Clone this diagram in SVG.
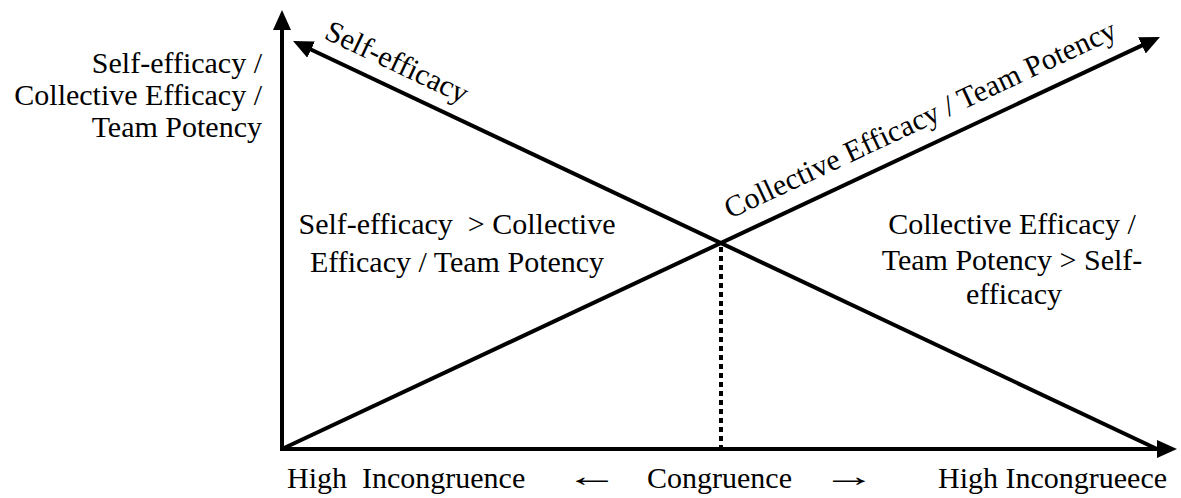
<svg xmlns="http://www.w3.org/2000/svg" width="1181" height="498" viewBox="0 0 1181 498">
<style>
  .t { font-family: 'Liberation Serif', 'Times New Roman', Times, serif; font-size: 30px; fill: #000; }
  .ln { stroke: #000; stroke-width: 4; fill: none; }
  .dot { stroke: #000; stroke-width: 4; stroke-dasharray: 5 4; fill: none; }
</style>
<defs>
  <marker id="ah" markerUnits="userSpaceOnUse" markerWidth="22" markerHeight="20" refX="2" refY="9" orient="auto" viewBox="0 0 22 20">
    <path d="M0,0 L20,9 L0,18 z" fill="#000"/>
  </marker>
</defs>
<rect width="1181" height="498" fill="#fff"/>
<g id="connectors">
  <line class="ln" x1="282" y1="451" x2="282" y2="28" marker-end="url(#ah)"/>
  <line class="ln" x1="280" y1="449" x2="1159" y2="449" marker-end="url(#ah)"/>
  <line class="ln" x1="282" y1="449" x2="1143.7" y2="44.6" marker-end="url(#ah)"/>
  <line class="ln" x1="1157" y1="449" x2="309.3" y2="48.7" marker-end="url(#ah)"/>
  <line class="dot" x1="721" y1="247" x2="721" y2="447"/>
</g>
<g class="t">
<g id="y-axis-label">
  <text x="262" y="73" text-anchor="end">Self-efficacy /</text>
  <text x="262" y="105" text-anchor="end">Collective Efficacy /</text>
  <text x="262" y="137" text-anchor="end">Team Potency</text>
</g>
<g id="self-efficacy-line-label">
  <text transform="translate(323,38) rotate(25.3)">Self-efficacy</text>
</g>
<g id="collective-line-label">
  <text transform="translate(730,219) rotate(-25.1)" textLength="429" lengthAdjust="spacing">Collective Efficacy / Team Potency</text>
</g>
<g id="left-region">
  <text x="457" y="234" text-anchor="middle" xml:space="preserve">Self-efficacy  &gt; Collective</text>
  <text x="457" y="272" text-anchor="middle">Efficacy / Team Potency</text>
</g>
<g id="right-region">
  <text x="1012" y="234" text-anchor="middle">Collective Efficacy /</text>
  <text x="1012" y="270" text-anchor="middle">Team Potency &gt; Self-</text>
  <text x="1014" y="304" text-anchor="middle">efficacy</text>
</g>
<g id="x-axis-labels">
  <text x="287" y="488" xml:space="preserve">High  Incongruence</text>
  <text transform="translate(592,486) scale(1.8,1)" text-anchor="middle">←</text>
  <text x="647" y="488">Congruence</text>
  <text transform="translate(849,486) scale(1.8,1)" text-anchor="middle">→</text>
  <text x="938" y="488">High Incongrueece</text>
</g>
</g>
</svg>
